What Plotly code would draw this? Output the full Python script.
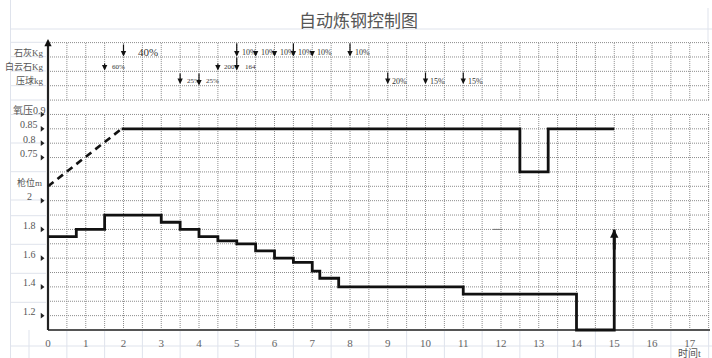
import plotly.graph_objects as go

# ---------------- data ----------------
time_ticks = list(range(18))
time_labels = [str(i) for i in time_ticks]

# lance position (m), step function (value holds from t until next t)
lance_t = [0, 0.75, 1.5, 3.0, 3.5, 4.0, 4.5, 5.0, 5.5, 6.0, 6.5, 7.0, 7.2, 7.7, 11.0, 14.0, 15.0]
lance_m = [1.75, 1.8, 1.9, 1.85, 1.8, 1.75, 1.72, 1.7, 1.65, 1.6, 1.57, 1.51, 1.46, 1.4, 1.35, 1.1, 1.8]

# oxygen pressure
oxy_ramp_t = [0, 1.95]
oxy_ramp_p = [0.65, 0.85]
oxy_t = [1.95, 12.5, 13.25, 15.0]
oxy_p = [0.85, 0.70, 0.85, 0.85]

oxy_ticks = [0.9, 0.85, 0.8, 0.75]
oxy_tick_labels = ["氧压0.9", "0.85", "0.8", "0.75"]
lance_ticks = [2.0, 1.8, 1.6, 1.4, 1.2]
lance_tick_labels = ["2", "1.8", "1.6", "1.4", "1.2"]
lance_title = "枪位m"

material_rows = ["石灰Kg", "白云石Kg", "压球kg"]
lime_t = [2.0, 5.0, 5.5, 6.0, 6.5, 7.0, 8.0]
lime_labels = ["40%", "10%", "10%", "10%", "10%", "10%", "10%"]
dolo_t = [1.5, 4.5, 5.0]
dolo_labels = ["60%", "200", "164"]
ball_t = [3.5, 4.0, 9.0, 10.0, 11.0]
ball_labels = ["25%", "25%", "20%", "15%", "15%"]

title_text = "自动炼钢控制图"
xlabel_text = "时间t"

# ---------------- layout geometry (pixels) ----------------
W, H = 712, 358
X0, SX = 48.0, 37.75    # px of t=0, px per time unit
Y0, SY = 330.0, 14.37   # px of grid row 0, px per grid row


def pt(px):
    return (px - X0) / SX


def pr(py):
    return (Y0 - py) / SY


XR = [pt(0), pt(W)]
YR = [pr(H), pr(0)]
LR = [1.1 + 0.1 * YR[0], 1.1 + 0.1 * YR[1]]      # lance axis: row0 = 1.1, 0.1 per row
OR = [0.15 + 0.05 * YR[0], 0.15 + 0.05 * YR[1]]  # oxygen axis: row15 = 0.9, 0.05 per row

TMAX = pt(709)
fig = go.Figure()


def seglines(segs, color, width, dash="solid", yaxis="y"):
    xs, ys = [], []
    for (xa, ya, xb, yb) in segs:
        xs += [xa, xb, None]
        ys += [ya, yb, None]
    fig.add_trace(go.Scatter(x=xs, y=ys, mode="lines", yaxis=yaxis, hoverinfo="skip",
                             showlegend=False, line=dict(color=color, width=width, dash=dash)))


# light spreadsheet cell lines
light = "#dfe3ec"
lsegs = [(pt(10), pr(29), pt(712), pr(29)),
         (pt(10), pr(346), pt(712), pr(346)),
         (pt(10.5), pr(0), pt(10.5), pr(358)),
         (pt(708), pr(8), pt(708), pr(42)),
         (pt(29), pr(330), pt(29), pr(358))]
for py in [42.3, 56.7, 71, 85.7, 100, 114.5, 143, 171.7, 200, 215.7, 244.3, 273.3, 302.3]:
    lsegs.append((pt(10), pr(py), pt(46), pr(py)))
for k in range(36):
    tv = 0.5 + k
    if tv <= TMAX:
        lsegs.append((tv, 0, tv, pr(358)))
seglines(lsegs, light, 1)

# dotted grid
gsegs = []
for r in range(1, 21):
    gsegs.append((0, r, TMAX, r))
k = 1
while k * 0.5 <= TMAX + 1e-9:
    tv = k * 0.5
    gsegs.append((tv, 0, tv, 15))
    gsegs.append((tv, 16, tv, 20))
    k += 1
seglines(gsegs, "#8c8c8c", 1, dash="1px,1px")

# axes
seglines([(0, 0, pt(710), 0)], "#555555", 2)
seglines([(0, 0, 0, pr(41))], "#222222", 2.2)
seglines([(pt(493), 7.0, pt(502), 7.0)], "#777777", 1)

# oxygen pressure
fig.add_trace(go.Scatter(x=oxy_ramp_t, y=oxy_ramp_p, mode="lines", yaxis="y3", showlegend=False,
                         line=dict(color="#111111", width=2.6, dash="7px,5px")))
fig.add_trace(go.Scatter(x=oxy_t, y=oxy_p, mode="lines", yaxis="y3", showlegend=False,
                         line=dict(color="#111111", width=2.8, shape="hv")))
# lance position
fig.add_trace(go.Scatter(x=lance_t, y=lance_m, mode="lines", yaxis="y2", showlegend=False,
                         line=dict(color="#111111", width=2.8, shape="hv")))

# left tick markers
fig.add_trace(go.Scatter(x=[pt(42)] * len(oxy_ticks), y=oxy_ticks, mode="markers", yaxis="y3",
                         showlegend=False, marker=dict(symbol="triangle-right", size=5, color="#222")))
fig.add_trace(go.Scatter(x=[pt(42)] * len(lance_ticks), y=lance_ticks, mode="markers", yaxis="y2",
                         showlegend=False, marker=dict(symbol="triangle-right", size=5, color="#222")))

ann = []
lab_font = dict(family="Liberation Serif, Noto Sans CJK SC", size=10, color="#555555")
for v, s in zip(oxy_ticks, oxy_tick_labels):
    ann.append(dict(x=pt(29), y=v, xref="x", yref="y3", text=s, showarrow=False,
                    yshift=4, font=lab_font))
for v, s in zip(lance_ticks, lance_tick_labels):
    ann.append(dict(x=pt(29), y=v, xref="x", yref="y2", text=s, showarrow=False,
                    yshift=4, font=lab_font))
ann.append(dict(x=pt(29), y=pr(182), xref="x", yref="y", text=lance_title, showarrow=False,
                font=dict(lab_font, size=9)))
for s, py, px in zip(material_rows, [52, 66.5, 80.5], [28.5, 24.5, 29.5]):
    ann.append(dict(x=pt(px), y=pr(py), xref="x", yref="y", text=s, showarrow=False,
                    font=dict(lab_font, size=9)))

ann.append(dict(x=pt(358), y=pr(19), xref="x", yref="y", text=title_text, showarrow=False,
                font=dict(family="Noto Sans CJK SC", size=17, color="#555555")))
ann.append(dict(x=pt(689), y=pr(352.5), xref="x", yref="y", text=xlabel_text, showarrow=False,
                font=dict(family="Liberation Serif, Noto Sans CJK SC", size=10, color="#555555")))


def down_arrow(t, top_px, tip_px):
    return dict(x=t, y=pr(tip_px), ax=t, ay=pr(top_px), xref="x", yref="y", axref="x", ayref="y",
                text="", showarrow=True, arrowhead=2, arrowsize=0.9, arrowwidth=1.2,
                arrowcolor="#111111", standoff=0)


small_font = dict(family="Liberation Serif, Arial", size=8, color="#333333")
lime_top = [43, 42, 50, 50, 42, 50, 42]
lime_shift = [12, 3, 3, 3, 3, 3, 3]
for t, s, tp, xs in zip(lime_t, lime_labels, lime_top, lime_shift):
    ann.append(down_arrow(t, tp, 56.5))
    f = dict(small_font)
    if s == "40%":
        f["size"] = 11
    ann.append(dict(x=t, y=pr(52), xref="x", yref="y", text=s, showarrow=False, xanchor="left",
                    xshift=xs, font=f))
dolo_top = [62, 62, 56]
dolo_shift = [5, 4, 6]
for t, s, tp, xs in zip(dolo_t, dolo_labels, dolo_top, dolo_shift):
    ann.append(down_arrow(t, tp, 70.5))
    ann.append(dict(x=t, y=pr(66.5), xref="x", yref="y", text=s, showarrow=False, xanchor="left",
                    xshift=xs, font=dict(small_font, size=7)))
ball_top = [72, 72, 71, 71, 71]
ball_tip = [84, 85.5, 84, 84, 84]
ball_shift = [5, 5, 2, 2, 3]
for t, s, tp, tip, xs in zip(ball_t, ball_labels, ball_top, ball_tip, ball_shift):
    ann.append(down_arrow(t, tp, tip))
    ann.append(dict(x=t, y=pr(81), xref="x", yref="y", text=s, showarrow=False, xanchor="left",
                    xshift=xs, font=dict(small_font, size=7 if s == "25%" else 8)))

# y-axis top arrow
ann.append(dict(x=0, y=pr(39), ax=0, ay=pr(46), xref="x", yref="y", axref="x", ayref="y",
                text="", showarrow=True, arrowhead=2, arrowsize=0.8, arrowwidth=1.8,
                arrowcolor="#111111", standoff=0))
# lance end arrow
ann.append(dict(x=lance_t[-1], y=lance_m[-1], ax=lance_t[-1], ay=lance_m[-1] - 0.15,
                xref="x", yref="y2", axref="x", ayref="y2",
                text="", showarrow=True, arrowhead=2, arrowsize=0.6, arrowwidth=2.8,
                arrowcolor="#111111", standoff=0))

fig.update_layout(
    width=W, height=H, autosize=False,
    margin=dict(l=0, r=0, t=0, b=0, pad=0),
    paper_bgcolor="white", plot_bgcolor="white",
    showlegend=False,
    annotations=ann,
    xaxis=dict(range=XR, domain=[0, 1], anchor="free", position=(0 - YR[0]) / (YR[1] - YR[0]),
               showgrid=False, zeroline=False, showline=False,
               tickmode="array", tickvals=time_ticks, ticktext=time_labels,
               ticks="outside", ticklen=3, tickcolor="rgba(0,0,0,0)",
               tickfont=dict(family="Liberation Serif", size=11, color="#666666")),
    yaxis=dict(range=YR, domain=[0, 1], visible=False),
    yaxis2=dict(range=LR, overlaying="y", visible=False),
    yaxis3=dict(range=OR, overlaying="y", visible=False),
)

fig.write_html("out.html", config={"displayModeBar": False},
               post_script="document.body.style.margin='0';document.body.style.padding='0';")
